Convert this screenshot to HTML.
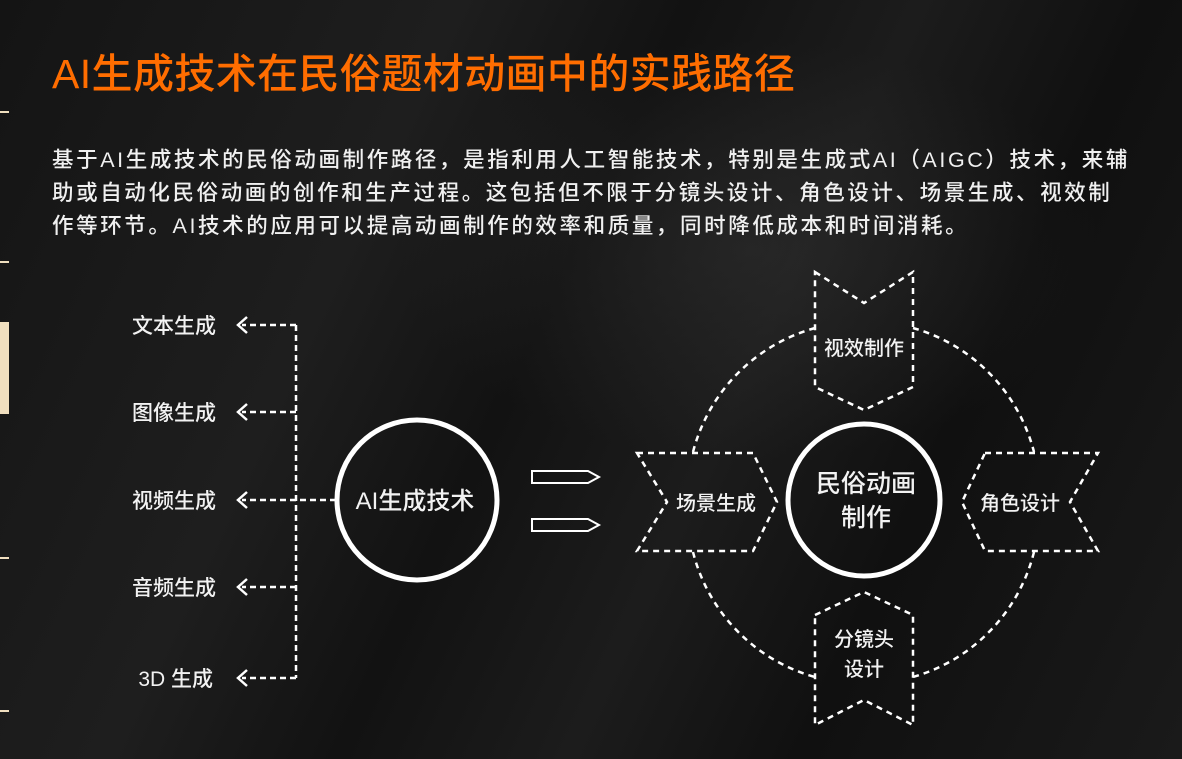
<!DOCTYPE html>
<html><head><meta charset="utf-8"><style>
html,body{margin:0;padding:0}
body{width:1182px;height:759px;overflow:hidden;background:#151515;position:relative;font-family:"Liberation Sans","Noto Sans CJK SC",sans-serif}
.bg{position:absolute;inset:0;background:
radial-gradient(ellipse 500px 300px at 750px 250px,rgba(60,60,60,.35),transparent 70%),
linear-gradient(115deg,#141414 0%,#1e1e1e 30%,#121212 45%,#1c1c1c 60%,#101010 75%,#1a1a1a 100%)}
.title{position:absolute;left:52px;top:46px;font-size:41px;color:#ff6d00;letter-spacing:0.4px;white-space:nowrap;line-height:56px;font-weight:500}
.p{position:absolute;left:52px;top:144px;font-size:21.5px;color:#f0f0f0;letter-spacing:2.6px;line-height:33px;white-space:nowrap;font-weight:500}
svg{position:absolute;left:0;top:0}
svg text{font-family:"Liberation Sans","Noto Sans CJK SC",sans-serif;fill:#f2f2f2;font-weight:500}
</style></head><body>
<div class="bg"></div>
<div class="title">AI生成技术在民俗题材动画中的实践路径</div>
<div class="p">基于AI生成技术的民俗动画制作路径，是指利用人工智能技术，特别是生成式AI（AIGC）技术，来辅<br>助或自动化民俗动画的创作和生产过程。这包括但不限于分镜头设计、角色设计、场景生成、视效制<br>作等环节。AI技术的应用可以提高动画制作的效率和质量，同时降低成本和时间消耗。</div>
<svg width="1182" height="759" viewBox="0 0 1182 759">
<g fill="#f0dfbf">
<rect x="0" y="111" width="9" height="2"/><rect x="0" y="261" width="9" height="2"/>
<rect x="0" y="322" width="9" height="92"/><rect x="0" y="557" width="9" height="2"/><rect x="0" y="710" width="9" height="2"/>
</g>
<g stroke="#fff" stroke-width="2.5" fill="none" stroke-dasharray="6 4">
<path d="M296 325V678"/>
<path d="M296 325H242M296 412H242M296 500H242M296 587H242M296 678H242M336 500H296"/>
</g>
<g stroke="#fff" stroke-width="2.5" fill="none">
<path d="M247 317L238 325L247 333M247 404L238 412L247 420M247 492L238 500L247 508M247 579L238 587L247 595M247 670L238 678L247 686"/>
<circle cx="417" cy="500" r="80" stroke-width="5"/>
<path d="M532 471H588L599 477L588 483H532Z" stroke-width="2"/>
<path d="M532 519H588L599 525L588 531H532Z" stroke-width="2"/>
<circle cx="864" cy="500" r="76" stroke-width="5"/>
</g>
<g font-size="21">
<text x="216" y="333" text-anchor="end">文本生成</text>
<text x="216" y="420" text-anchor="end">图像生成</text>
<text x="216" y="508" text-anchor="end">视频生成</text>
<text x="216" y="595" text-anchor="end">音频生成</text>
<text x="213" y="686" text-anchor="end">3D 生成</text>
</g>
<text x="415" y="509" font-size="24" text-anchor="middle">AI生成技术</text>
<g stroke="#fff" stroke-width="2.5" fill="none" stroke-dasharray="6 5">
<path d="M815 328A174 174 0 0 0 693 452"/>
<path d="M913 328A174 174 0 0 1 1034 452"/>
<path d="M693 552A174 174 0 0 0 815 677"/>
<path d="M1034 552A174 174 0 0 1 913 677"/>
<path d="M815 272L864 303L913 272V387L864 410L815 387Z"/>
<path d="M815 615L864 592L913 615V725L864 700L815 725Z"/>
<path d="M637 453H753L777 502L753 551H637L667 502Z"/>
<path d="M985 453H1098L1070 502L1098 551H985L962 502Z"/>
</g>
<g font-size="20" text-anchor="middle">
<text x="864" y="355">视效制作</text>
<text x="716" y="510">场景生成</text>
<text x="1020" y="510">角色设计</text>
<text x="864" y="646">分镜头</text>
<text x="864" y="676">设计</text>
</g>
<g font-size="25" text-anchor="middle">
<text x="866" y="492">民俗动画</text>
<text x="866" y="526">制作</text>
</g>
</svg>
</body></html>
